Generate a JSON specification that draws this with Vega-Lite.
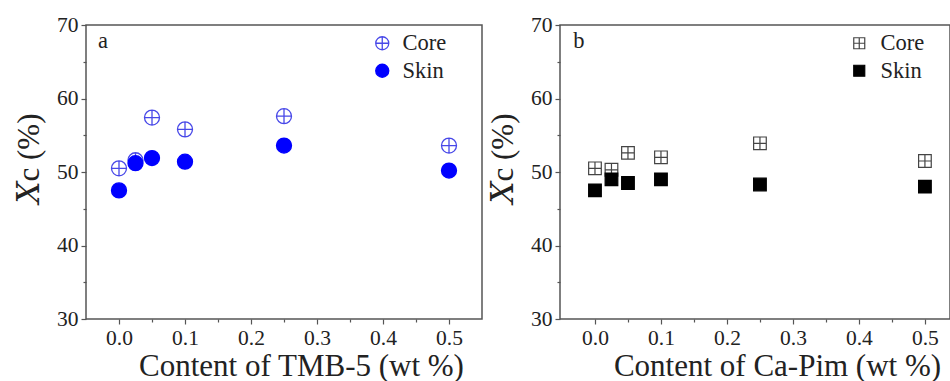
{
  "$schema": "https://vega.github.io/schema/vega-lite/v6.json",
  "background": "white",
  "padding": {"left": 12, "top": 13, "right": 0, "bottom": 0},
  "bounds": "flush",
  "spacing": 78,
  "config": {
    "view": {"stroke": "#555", "strokeWidth": 1.5},
    "font": "Liberation Serif, Times New Roman, DejaVu Serif, serif",
    "axis": {
      "grid": false,
      "domain": false,
      "labelFont": "Liberation Serif, Times New Roman, DejaVu Serif, serif",
      "labelFontSize": 21.5,
      "labelColor": "#222",
      "tickColor": "#555",
      "tickWidth": 1.2,
      "titleFont": "Liberation Serif, Times New Roman, DejaVu Serif, serif",
      "titleFontSize": 31,
      "titleFontWeight": "normal",
      "titleColor": "#222"
    },
    "legend": {
      "labelFont": "Liberation Serif, Times New Roman, DejaVu Serif, serif",
      "labelFontSize": 22.5,
      "labelColor": "#222",
      "padding": 0
    }
  },
  "datasets": {
    "tmb": [
      {"content": 0, "xc": 50.5, "series": "Core"},
      {"content": 0.025, "xc": 51.6, "series": "Core"},
      {"content": 0.05, "xc": 57.4, "series": "Core"},
      {"content": 0.1, "xc": 55.8, "series": "Core"},
      {"content": 0.25, "xc": 57.6, "series": "Core"},
      {"content": 0.5, "xc": 53.6, "series": "Core"},
      {"content": 0, "xc": 47.5, "series": "Skin"},
      {"content": 0.025, "xc": 51.2, "series": "Skin"},
      {"content": 0.05, "xc": 51.9, "series": "Skin"},
      {"content": 0.1, "xc": 51.4, "series": "Skin"},
      {"content": 0.25, "xc": 53.6, "series": "Skin"},
      {"content": 0.5, "xc": 50.2, "series": "Skin"}
    ],
    "capim": [
      {"content": 0, "xc": 50.5, "series": "Core"},
      {"content": 0.025, "xc": 50.3, "series": "Core"},
      {"content": 0.05, "xc": 52.6, "series": "Core"},
      {"content": 0.1, "xc": 52.0, "series": "Core"},
      {"content": 0.25, "xc": 53.9, "series": "Core"},
      {"content": 0.5, "xc": 51.5, "series": "Core"},
      {"content": 0, "xc": 47.5, "series": "Skin"},
      {"content": 0.025, "xc": 49.0, "series": "Skin"},
      {"content": 0.05, "xc": 48.5, "series": "Skin"},
      {"content": 0.1, "xc": 49.0, "series": "Skin"},
      {"content": 0.25, "xc": 48.3, "series": "Skin"},
      {"content": 0.5, "xc": 48.0, "series": "Skin"}
    ],
    "labelA": [{"content": -0.032, "xc": 66.9, "label": "a"}],
    "labelB": [{"content": -0.033, "xc": 66.9, "label": "b"}]
  },
  "resolve": {
    "scale": {"x": "independent", "y": "independent", "shape": "independent", "fill": "independent", "stroke": "independent"},
    "legend": {"shape": "independent", "fill": "independent", "stroke": "independent"}
  },
  "hconcat": [
    {
      "width": 396,
      "height": 294,
      "resolve": {"axis": {"x": "independent", "y": "independent"}},
      "layer": [
        {
          "data": {"name": "tmb"},
          "mark": {"type": "point", "filled": true, "size": 225, "strokeWidth": 1.3, "opacity": 1},
          "encoding": {
            "x": {"field": "content", "type": "quantitative", "scale": {"domain": [-0.05, 0.55], "nice": false, "zero": false},
                  "axis": {"values": [0, 0.1, 0.2, 0.3, 0.4, 0.5], "format": ".1f", "tickSize": 5, "labelPadding": 3,
                           "title": "Content of TMB-5 (wt %)", "titleX": 215, "titleY": 56, "titleBaseline": "alphabetic", "titleAnchor": "start", "titleAlign": "center"}},
            "y": {"field": "xc", "type": "quantitative", "scale": {"domain": [30, 70], "nice": false, "zero": false},
                  "axis": {"values": [30, 40, 50, 60, 70], "tickSize": 5, "labelPadding": 3,
                           "title": "𝑋c (%)", "titleX": -48, "titleY": 133, "titleAngle": -90, "titleBaseline": "alphabetic", "titleAlign": "center", "titleAnchor": "start"}},
            "shape": {"field": "series", "type": "nominal",
                      "scale": {"domain": ["Core", "Skin"], "range": ["M-1,0A1,1 0 1,1 1,0A1,1 0 1,1 -1,0ZM-1,0H1M0,-1V1", "circle"]},
                      "legend": {"title": null, "orient": "none", "legendX": 285, "legendY": 7, "symbolSize": 170, "symbolStrokeWidth": 1.3, "labelOffset": 9, "rowPadding": 4.5}},
            "fill": {"field": "series", "type": "nominal",
                     "scale": {"domain": ["Core", "Skin"], "range": ["transparent", "#0000ff"]},
                     "legend": {"title": null, "orient": "none", "legendX": 285, "legendY": 7, "symbolSize": 170, "symbolStrokeWidth": 1.3, "labelOffset": 9, "rowPadding": 4.5}},
            "stroke": {"field": "series", "type": "nominal",
                       "scale": {"domain": ["Core", "Skin"], "range": ["#4848e8", "#0000ff"]},
                       "legend": {"title": null, "orient": "none", "legendX": 285, "legendY": 7, "symbolSize": 170, "symbolStrokeWidth": 1.3, "labelOffset": 9, "rowPadding": 4.5}}
          }
        },
        {
          "data": {"name": "labelA"},
          "mark": {"type": "text", "fontSize": 22.5, "align": "left", "baseline": "alphabetic", "color": "#222"},
          "encoding": {
            "x": {"field": "content", "type": "quantitative",
                  "axis": {"values": [0.05, 0.15, 0.25, 0.35, 0.45], "labels": false, "tickSize": 3, "title": null, "orient": "bottom"}},
            "y": {"field": "xc", "type": "quantitative",
                  "axis": {"values": [35, 45, 55, 65], "labels": false, "tickSize": 3, "title": null, "orient": "left"}},
            "text": {"field": "label"}
          }
        }
      ]
    },
    {
      "width": 390,
      "height": 294,
      "resolve": {"axis": {"x": "independent", "y": "independent"}},
      "layer": [
        {
          "data": {"name": "capim"},
          "mark": {"type": "point", "filled": true, "size": 160, "strokeWidth": 1.2, "opacity": 1},
          "encoding": {
            "x": {"field": "content", "type": "quantitative", "scale": {"domain": [-0.053, 0.538], "nice": false, "zero": false},
                  "axis": {"values": [0, 0.1, 0.2, 0.3, 0.4, 0.5], "format": ".1f", "tickSize": 5, "labelPadding": 3,
                           "title": "Content of Ca-Pim (wt %)", "titleX": 217, "titleY": 56, "titleBaseline": "alphabetic", "titleAnchor": "start", "titleAlign": "center"}},
            "y": {"field": "xc", "type": "quantitative", "scale": {"domain": [30, 70], "nice": false, "zero": false},
                  "axis": {"values": [30, 40, 50, 60, 70], "tickSize": 5, "labelPadding": 3,
                           "title": "𝑋c (%)", "titleX": -48, "titleY": 133, "titleAngle": -90, "titleBaseline": "alphabetic", "titleAlign": "center", "titleAnchor": "start"}},
            "shape": {"field": "series", "type": "nominal",
                      "scale": {"domain": ["Core", "Skin"], "range": ["M-1,-1H1V1H-1ZM-1,0H1M0,-1V1", "square"]},
                      "legend": {"title": null, "orient": "none", "legendX": 288, "legendY": 7, "symbolSize": 121, "symbolStrokeWidth": 1.2, "labelOffset": 10, "rowPadding": 4.5}},
            "fill": {"field": "series", "type": "nominal",
                     "scale": {"domain": ["Core", "Skin"], "range": ["transparent", "#000000"]},
                     "legend": {"title": null, "orient": "none", "legendX": 288, "legendY": 7, "symbolSize": 121, "symbolStrokeWidth": 1.2, "labelOffset": 10, "rowPadding": 4.5}},
            "stroke": {"field": "series", "type": "nominal",
                       "scale": {"domain": ["Core", "Skin"], "range": ["#444444", "#000000"]},
                       "legend": {"title": null, "orient": "none", "legendX": 288, "legendY": 7, "symbolSize": 121, "symbolStrokeWidth": 1.2, "labelOffset": 10, "rowPadding": 4.5}}
          }
        },
        {
          "data": {"name": "labelB"},
          "mark": {"type": "text", "fontSize": 22.5, "align": "left", "baseline": "alphabetic", "color": "#222"},
          "encoding": {
            "x": {"field": "content", "type": "quantitative",
                  "axis": {"values": [0.05, 0.15, 0.25, 0.35, 0.45], "labels": false, "tickSize": 3, "title": null, "orient": "bottom"}},
            "y": {"field": "xc", "type": "quantitative",
                  "axis": {"values": [35, 45, 55, 65], "labels": false, "tickSize": 3, "title": null, "orient": "left"}},
            "text": {"field": "label"}
          }
        }
      ]
    }
  ]
}
